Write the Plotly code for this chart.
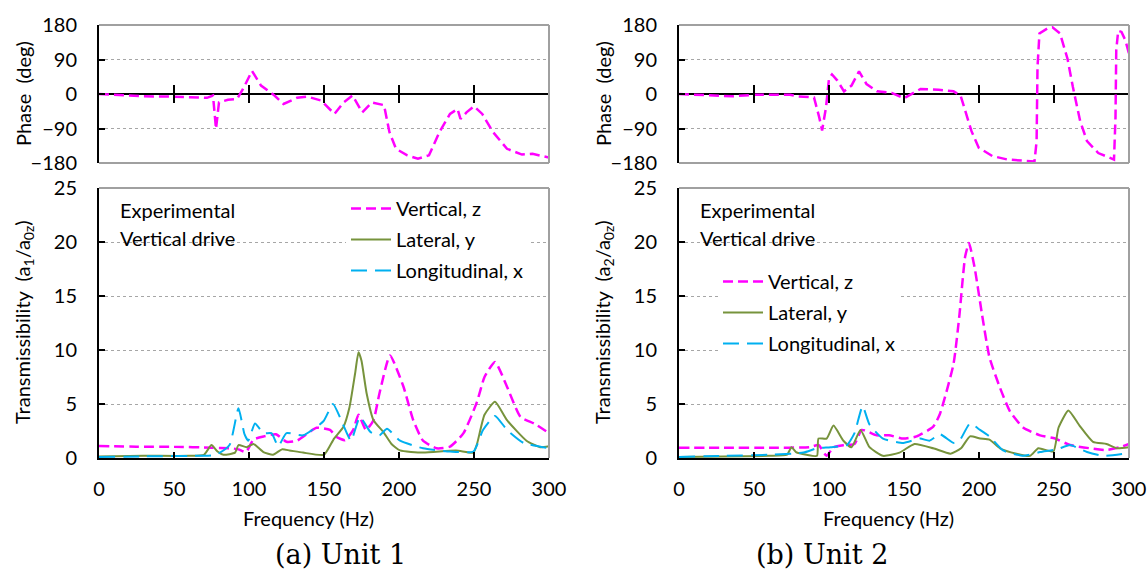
import plotly.graph_objects as go

W, H = 1148, 572

# ---------------- data ----------------
freq_ticks = [0, 50, 100, 150, 200, 250, 300]
phase_ticks = [-180, -90, 0, 90, 180]
trans_ticks = [0, 5, 10, 15, 20, 25]

# Unit 1 transmissibility
u1_z_f = [0, 25, 50, 75, 88, 93, 98, 103, 110, 118, 125, 132, 145, 154, 158.4, 164, 169.5, 173, 178, 183, 187, 194, 203, 209.5, 216, 225, 234, 243, 252, 257, 264, 272, 281, 290, 300]
u1_z_T = [1.1, 1.05, 1.05, 0.95, 0.9, 0.8, 0.55, 1.7, 2.0, 2.2, 1.5, 1.6, 2.8, 2.6, 1.95, 1.65, 2.6, 4.0, 2.6, 3.5, 6.0, 9.5, 6.6, 3.5, 1.6, 0.9, 1.05, 2.3, 5.2, 7.5, 8.9, 6.6, 3.8, 3.2, 2.3]
u1_y_f = [0, 30, 60, 70, 75, 79, 83, 90.7, 93, 98.4, 103, 109.6, 116, 122, 127, 136, 150, 156.7, 163, 167, 170.7, 173, 175, 178.4, 183, 189.6, 195, 200.7, 216, 238, 249.6, 252, 257, 264, 272, 285, 294, 300]
u1_y_T = [0.15, 0.2, 0.2, 0.3, 1.2, 0.6, 0.3, 0.5, 1.2, 1.0, 1.3, 0.55, 0.3, 0.8, 0.7, 0.5, 0.3, 1.8, 2.9, 4.7, 7.8, 9.8, 9.0, 6.0, 3.5, 2.4, 1.3, 0.7, 0.5, 0.7, 0.5, 1.3, 4.0, 5.2, 3.5, 1.6, 1.0, 1.1]
u1_x_f = [0, 30, 60, 78, 87, 93, 97, 99.5, 104, 109.6, 115, 119.5, 125, 136, 149.6, 156, 163, 168, 174, 181, 187, 192, 200.7, 216, 234, 249.6, 256, 264, 272, 283, 300]
u1_x_T = [0.1, 0.15, 0.2, 0.3, 1.2, 4.6, 2.2, 1.6, 3.2, 2.3, 2.3, 1.1, 2.3, 2.1, 3.4, 5.0, 3.0, 1.6, 3.8, 2.4, 2.1, 2.7, 1.6, 0.9, 0.6, 0.6, 2.6, 3.9, 2.6, 1.4, 0.9]

# Unit 2 transmissibility
u2_z_f = [0, 30, 60, 87, 93, 98.4, 103, 110, 117, 121.8, 131.8, 140, 149.6, 158.4, 169.5, 174, 183, 187, 190.7, 193.3, 197, 202, 207, 214, 220.7, 229.6, 240.7, 250.7, 260.7, 274, 285, 294, 300]
u2_z_T = [0.95, 0.95, 0.95, 1.0, 1.2, 0.2, 1.0, 1.2, 1.3, 2.6, 2.1, 2.1, 1.8, 2.0, 2.9, 4.1, 8.7, 13.3, 18.6, 19.9, 17.7, 13.3, 9.3, 6.5, 4.3, 2.8, 2.1, 1.8, 1.2, 0.9, 0.74, 1.0, 1.3]
u2_y_f = [0, 30, 60, 72, 75, 78, 85, 92, 93, 98.4, 103, 109.6, 115, 121, 127, 136, 147, 157, 169.5, 181, 188, 194, 200.7, 207, 214, 225, 234, 239.6, 249.6, 253, 259.6, 267, 276, 285, 292, 300]
u2_y_T = [0.1, 0.15, 0.2, 0.3, 1.0, 0.55, 0.3, 0.2, 1.8, 1.8, 3.0, 1.6, 1.0, 2.6, 1.0, 0.2, 0.5, 1.3, 0.9, 0.4, 0.9, 2.0, 1.8, 1.7, 0.9, 0.4, 0.2, 0.9, 0.6, 2.8, 4.4, 3.0, 1.5, 1.3, 0.9, 1.0]
u2_x_f = [0, 30, 60, 83, 92, 101, 112, 117, 122.4, 127, 136, 149.6, 160.7, 167, 174, 183, 187, 194, 200.7, 207, 216, 229.6, 240.7, 252, 260.7, 272, 283, 300]
u2_x_T = [0.1, 0.2, 0.3, 0.5, 0.9, 1.0, 1.2, 2.3, 4.8, 3.1, 1.8, 1.4, 1.8, 1.6, 2.2, 1.4, 1.6, 3.2, 2.6, 2.0, 0.7, 0.2, 0.55, 0.8, 1.2, 0.55, 0.2, 0.45]

# Phase (vertical)
u1_p_f = [0, 29, 50, 72, 76, 78, 80, 86, 92, 96, 102, 108, 117, 123, 132, 139, 148, 157, 163, 169, 175.5, 182, 190, 193.6, 198, 205.5, 212.6, 220, 227, 234, 239, 241, 245, 250, 255.5, 262.6, 272, 282, 289, 296, 300]
u1_p = [0, -6, -7, -10, -4, -91, -22, -15, -13, 13, 60, 22, -4, -26, -10, -7, -17, -52, -22, -4, -48, -22, -29, -99, -143, -160, -169, -160, -99, -52, -39, -65, -48, -32, -52, -99, -143, -158, -156, -162, -166]
u2_p_f = [0, 35.5, 50, 74, 79, 90, 93.5, 95.4, 98, 100, 102, 105.6, 110, 115, 120, 125, 132, 141.8, 150, 155, 161, 173, 183, 187.7, 191, 195, 199.8, 209, 219, 228.7, 237, 238.4, 239, 240.3, 245.6, 249, 254, 259, 262.6, 267.4, 272, 279.5, 286.7, 290, 291, 291.5, 292.8, 295, 297.6, 300]
u2_p = [0, -6, -2, -2, -6, -9, -61, -95, -35, 40, 51, 35, 7, 22, 59, 26, 7, 3, -11, 0, 13, 11, 7, -4, -44, -97, -140, -162, -171, -174, -176, -123, 70, 158, 171, 174, 158, 92, 18, -70, -123, -154, -165, -171, -61, 114, 165, 162, 140, 105]

series_names = ["Vertical, z", "Lateral, y", "Longitudinal, x"]
captions = ["(a) Unit 1", "(b) Unit 2"]

# ---------------- styles ----------------
MAG = "#FF00FF"
GRN = "#77933C"
CYN = "#00B0F0"
GRID = "#A6A6A6"
FRAME = "#A0A0A0"
FONT = "Lato"
FS = 20

def px(x):
    return x / W

def py(y):
    return 1 - y / H

panels = [
    dict(x0=99, x1=549, title_x=23, freq_x=308, cap_x=340),
    dict(x0=679, x1=1129, title_x=603, freq_x=888, cap_x=822),
]
PH_Y = (25, 163)
TR_Y = (188, 458)

fig = go.Figure()

unit_data = [
    (u1_z_f, u1_z_T, u1_y_f, u1_y_T, u1_x_f, u1_x_T, u1_p_f, u1_p),
    (u2_z_f, u2_z_T, u2_y_f, u2_y_T, u2_x_f, u2_x_T, u2_p_f, u2_p),
]


def note(text, x, y, size=FS, family=FONT, angle=0, xanchor="center"):
    fig.add_annotation(text=text, x=px(x), y=py(y), xref="paper", yref="paper",
                       xanchor=xanchor, yanchor="middle", textangle=angle, showarrow=False,
                       font=dict(family=family, size=size, color="black"))


for i, (zf, zT, yf, yT, xf, xT, pf, pp) in enumerate(unit_data):
    ax_ph = 2 * i + 1
    ax_tr = 2 * i + 2
    xa_ph = "x" if ax_ph == 1 else f"x{ax_ph}"
    ya_ph = "y" if ax_ph == 1 else f"y{ax_ph}"
    xa_tr = f"x{ax_tr}"
    ya_tr = f"y{ax_tr}"
    leg = "legend" if i == 0 else "legend2"

    # phase curve
    fig.add_trace(go.Scatter(x=pf, y=pp, xaxis=xa_ph, yaxis=ya_ph, mode="lines",
                             line=dict(color=MAG, width=2.5, dash="10px,5px"),
                             showlegend=False, hoverinfo="skip"))
    # tick marks crossing the zero line
    fig.add_trace(go.Scatter(x=freq_ticks[1:], y=[0] * (len(freq_ticks) - 1), xaxis=xa_ph, yaxis=ya_ph,
                             mode="markers", cliponaxis=False,
                             marker=dict(symbol="line-ns", size=13, line=dict(color="black", width=2)),
                             showlegend=False, hoverinfo="skip"))

    # transmissibility
    fig.add_trace(go.Scatter(x=zf, y=zT, xaxis=xa_tr, yaxis=ya_tr, mode="lines", name=series_names[0],
                             line=dict(color=MAG, width=2.5, dash="10px,5px", shape="spline", smoothing=0.5),
                             legend=leg, legendgroup=f"z{i}"))
    fig.add_trace(go.Scatter(x=yf, y=yT, xaxis=xa_tr, yaxis=ya_tr, mode="lines", name=series_names[1],
                             line=dict(color=GRN, width=2, shape="spline", smoothing=0.5),
                             legend=leg, legendgroup=f"y{i}"))
    fig.add_trace(go.Scatter(x=xf, y=xT, xaxis=xa_tr, yaxis=ya_tr, mode="lines", name=series_names[2],
                             line=dict(color=CYN, width=2, dash="16px,8px", shape="spline", smoothing=0.5),
                             legend=leg, legendgroup=f"x{i}"))

    p = panels[i]
    dom_x = [px(p["x0"]), px(p["x1"])]
    common_y = dict(showline=True, linecolor="black", linewidth=2, ticks="inside", ticklen=6,
                    tickwidth=2, tickcolor="black", showgrid=True, gridcolor=GRID, griddash="dot",
                    gridwidth=1, tickfont=dict(family=FONT, size=FS, color="black"),
                    ticklabelstandoff=16, fixedrange=True, automargin=False)
    fig.layout[("xaxis" if ax_ph == 1 else f"xaxis{ax_ph}")] = dict(
        domain=dom_x, anchor=ya_ph, range=[0, 300], showline=False, showgrid=False,
        zeroline=False, showticklabels=False, ticks="", fixedrange=True, automargin=False)
    fig.layout[("yaxis" if ax_ph == 1 else f"yaxis{ax_ph}")] = dict(
        domain=[py(PH_Y[1]), py(PH_Y[0])], anchor=xa_ph, range=[-180, 180], tickvals=phase_ticks,
        zeroline=True, zerolinecolor="black", zerolinewidth=2, **common_y)
    fig.layout[f"xaxis{ax_tr}"] = dict(
        domain=dom_x, anchor=ya_tr, range=[0, 300], tickvals=freq_ticks, showline=True,
        linecolor="black", linewidth=2, ticks="inside", ticklen=6, tickwidth=2, tickcolor="black",
        showgrid=False, zeroline=False, tickfont=dict(family=FONT, size=FS, color="black"),
        ticklabelstandoff=12, fixedrange=True, automargin=False)
    fig.layout[f"yaxis{ax_tr}"] = dict(
        domain=[py(TR_Y[1]), py(TR_Y[0])], anchor=xa_tr, range=[0, 25], tickvals=trans_ticks,
        zeroline=False, **common_y)

    # gray frame lines (top/right/bottom for phase, top/right for transmissibility)
    for (xr, yr, seg) in [
        (xa_ph, ya_ph, [(0, 1, 1, 1), (1, 0, 1, 1), (0, 0, 1, 0)]),
        (xa_tr, ya_tr, [(0, 1, 1, 1), (1, 0, 1, 1)]),
    ]:
        for (a, b, c, d) in seg:
            fig.add_shape(type="line", xref=f"{xr} domain", yref=f"{yr} domain",
                          x0=a, y0=b, x1=c, y1=d, line=dict(color=FRAME, width=2), layer="above")

    sub = "1" if i == 0 else "2"
    note("Phase  (deg)", p["title_x"], 94, angle=-90)
    note(f"Transmissibility  (a<sub>{sub}</sub>/a<sub>0z</sub>)", p["title_x"], 322, angle=-90)
    note("Frequency (Hz)", p["freq_x"], 518)
    note(captions[i], p["cap_x"], 554, size=27, family="DejaVu Serif")
    note("Experimental", p["x0"] + 19, 210, xanchor="left")
    note("Vertical drive", p["x0"] + 19, 238, xanchor="left")

leg_common = dict(bgcolor="white", borderwidth=0, font=dict(family=FONT, size=FS, color="black"),
                  tracegroupgap=2, xanchor="left", yanchor="top", itemwidth=40)
fig.update_layout(
    width=W, height=H, margin=dict(l=0, r=0, t=0, b=0, autoexpand=False),
    paper_bgcolor="white", plot_bgcolor="white",
    font=dict(family=FONT, size=FS, color="black"),
    legend=dict(x=px(346), y=py(189), **leg_common),
    legend2=dict(x=px(718), y=py(262), **leg_common),
)

fig.write_html("out.html")
